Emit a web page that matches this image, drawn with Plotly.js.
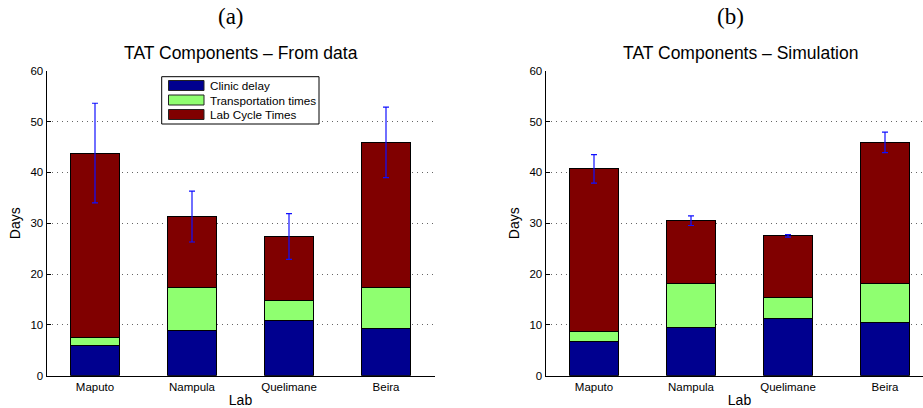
<!DOCTYPE html>
<html>
<head>
<meta charset="utf-8">
<script src="https://cdn.plot.ly/plotly-3.0.1.min.js"></script>
<style>
  html, body { margin: 0; padding: 0; background: #fff; overflow: hidden; }
  #chart { width: 934px; height: 408px; }
</style>
</head>
<body>
<div id="chart"></div>
<script>
// Turnaround-time components per laboratory (days)
const labs = ['Maputo', 'Nampula', 'Quelimane', 'Beira'];
const seriesNames = ['Clinic delay', 'Transportation times', 'Lab Cycle Times'];

// (a) observed data
const dataClinic    = [6.0, 8.8, 10.8, 9.3];
const dataTransport = [1.6, 8.65, 4.0, 8.0];
const dataLabCycle  = [36.2, 13.85, 12.6, 28.6];
const dataError     = [9.8, 5.0, 4.5, 6.95];

// (b) simulation output
const simClinic    = [6.8, 9.45, 11.3, 10.4];
const simTransport = [1.9, 8.65, 4.0, 7.8];
const simLabCycle  = [32.0, 12.4, 12.2, 27.7];
const simError     = [2.8, 0.95, 0.25, 2.0];

const colors = ['#00008f', '#8fff70', '#800000'];

const W = 934, H = 408;
const px = x => x / W;
const py = y => 1 - y / H;

function stackTraces(parts, errs, xa, ya) {
  const traces = parts.map((vals, i) => ({
    type: 'bar', x: labs, y: vals, name: seriesNames[i],
    xaxis: xa, yaxis: ya, width: 0.5, showlegend: false,
    marker: { color: colors[i], line: { color: '#000', width: 1 } },
    hoverinfo: 'y+name'
  }));
  const totals = labs.map((_, k) => parts.reduce((s, p) => s + p[k], 0));
  traces.push({
    type: 'scatter', mode: 'markers', x: labs, y: totals,
    xaxis: xa, yaxis: ya, showlegend: false,
    marker: { size: 1, color: 'rgba(0,0,0,0)' },
    error_y: { type: 'data', array: errs, visible: true, color: '#1010ff', thickness: 1.2, width: 3 },
    hoverinfo: 'y'
  });
  return traces;
}

const traces = [
  ...stackTraces([dataClinic, dataTransport, dataLabCycle], dataError, 'x', 'y'),
  ...stackTraces([simClinic, simTransport, simLabCycle], simError, 'x2', 'y2')
];

const font = { family: 'Liberation Sans, Arial, sans-serif', color: '#000' };
const yDomain = [py(375.7), py(70.7)];

function xAxis(domain, anchor) {
  return {
    domain: domain, anchor: anchor, range: [-0.5, 3.5],
    showline: true, linecolor: '#000', linewidth: 1, mirror: false,
    ticks: '', showgrid: false, zeroline: false,
    tickfont: { ...font, size: 11.5 },
    title: { text: 'Lab', font: { ...font, size: 14 }, standoff: 4 },
    fixedrange: true
  };
}
function yAxis(domain, anchor) {
  return {
    domain: domain, anchor: anchor, range: [0, 60], dtick: 10,
    showline: true, linecolor: '#000', linewidth: 1,
    ticks: 'inside', ticklen: 4, tickcolor: '#000',
    showgrid: true, gridcolor: '#666', griddash: '1px,4px', gridwidth: 1,
    zeroline: false,
    tickfont: { ...font, size: 11.5 },
    title: { text: 'Days', font: { ...font, size: 14 }, standoff: 6 },
    fixedrange: true
  };
}

const annotations = [
  { text: '(a)', x: px(231), y: py(17), xref: 'paper', yref: 'paper', showarrow: false,
    xanchor: 'center', yanchor: 'middle', font: { family: 'Liberation Serif, serif', size: 23, color: '#000' } },
  { text: '(b)', x: px(730), y: py(17), xref: 'paper', yref: 'paper', showarrow: false,
    xanchor: 'center', yanchor: 'middle', font: { family: 'Liberation Serif, serif', size: 23, color: '#000' } },
  { text: 'TAT Components \u2013 From data', x: px(241), y: py(53.5), xref: 'paper', yref: 'paper', showarrow: false,
    xanchor: 'center', yanchor: 'middle', font: { ...font, size: 17.5 } },
  { text: 'TAT Components \u2013 Simulation', x: px(740), y: py(53.5), xref: 'paper', yref: 'paper', showarrow: false,
    xanchor: 'center', yanchor: 'middle', font: { ...font, size: 17.5 } }
];

// Legend box inside panel (a)
const shapes = [
  { type: 'rect', xref: 'paper', yref: 'paper', x0: px(161.7), x1: px(319), y0: py(124), y1: py(76.7),
    line: { color: '#000', width: 1 }, fillcolor: '#fff', layer: 'above' }
];
const rowY = [85.5, 100, 114.5];
seriesNames.forEach((name, i) => {
  shapes.push({ type: 'rect', xref: 'paper', yref: 'paper',
    x0: px(168.5), x1: px(204), y0: py(rowY[i] + 5), y1: py(rowY[i] - 5),
    line: { color: '#222', width: 1 }, fillcolor: colors[i], layer: 'above' });
  annotations.push({ text: name, x: px(207.5), y: py(rowY[i]), xref: 'paper', yref: 'paper', showarrow: false,
    xanchor: 'left', yanchor: 'middle', font: { ...font, size: 11.7 } });
});

const layout = {
  width: W, height: H,
  margin: { l: 0, r: 0, t: 0, b: 0 },
  paper_bgcolor: '#fff', plot_bgcolor: '#fff',
  barmode: 'stack', bargap: 0.5,
  showlegend: false,
  font: font,
  xaxis: xAxis([px(46.5), px(434.5)], 'y'),
  yaxis: yAxis(yDomain, 'x'),
  xaxis2: xAxis([px(545.5), px(933.5)], 'y2'),
  yaxis2: yAxis(yDomain, 'x2'),
  annotations: annotations,
  shapes: shapes
};

Plotly.newPlot('chart', traces, layout, { displayModeBar: false, staticPlot: true });
</script>
</body>
</html>
